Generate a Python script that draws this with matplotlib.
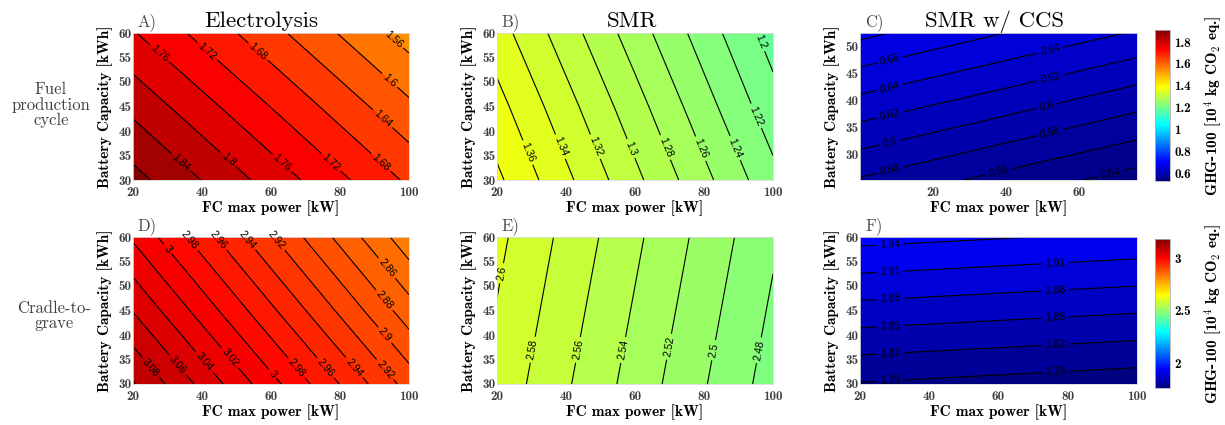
import matplotlib
matplotlib.use("Agg")
import matplotlib.pyplot as plt
import numpy as np
from matplotlib import cm, colors

plt.rcParams["font.family"] = "Liberation Sans"   # contour labels
plt.rcParams["mathtext.fontset"] = "cm"

fc_power = [20, 60, 100]          # kW
battery = [30, 45, 60]            # kWh
# panel C was drawn on its own (odd) axis range
fc_power_ccs = [0, 38, 76]
battery_ccs = [25.2, 38.9, 52.6]

# rows = battery capacity, cols = FC max power, [10^4 kg CO2 eq.]
electrolysis_fuel = [[1.894, 1.784, 1.673],
                     [1.829, 1.719, 1.608],
                     [1.763, 1.653, 1.542]]
smr_fuel = [[1.384, 1.305, 1.226],
            [1.367, 1.288, 1.208],
            [1.349, 1.270, 1.191]]
ccs_fuel = [[0.578, 0.554, 0.531],
            [0.631, 0.608, 0.584],
            [0.685, 0.661, 0.638]]
electrolysis_c2g = [[3.102, 3.007, 2.912],
                    [3.059, 2.964, 2.869],
                    [3.017, 2.922, 2.827]]
smr_c2g = [[2.593, 2.532, 2.471],
           [2.599, 2.538, 2.477],
           [2.605, 2.544, 2.483]]
ccs_c2g = [[1.788, 1.780, 1.772],
           [1.869, 1.861, 1.853],
           [1.950, 1.942, 1.934]]

# contour levels (first, last, step)
levels_a = (1.56, 1.88, 0.04)
levels_b = (1.20, 1.38, 0.02)
levels_c = (0.54, 0.68, 0.02)
levels_d = (2.84, 3.10, 0.02)
levels_e = (2.48, 2.60, 0.02)
levels_f = (1.79, 1.94, 0.03)

clim_fuel = (0.53, 1.91)
clim_c2g = (1.77, 3.18)
cbar_ticks_fuel = [0.6, 0.8, 1.0, 1.2, 1.4, 1.6, 1.8]
cbar_ticks_c2g = [2, 2.5, 3]

# where the inline labels sit (data coords)
lab_a = [(27.8, 55.9), (41.4, 56.2), (55.9, 55.9), (95.4, 58.6), (94.5, 50.4),
         (91.6, 41.9), (91.6, 33.4), (77.1, 33.4), (63.1, 33.4), (47.6, 34.1),
         (33.6, 33.4)]
lab_b = [(28.2, 35.4), (38.3, 36.8), (48.5, 36.8), (59.1, 36.5), (69.3, 36.8),
         (79.4, 36.5), (90.0, 36.8), (95.8, 43.3), (97.8, 58.6)]
lab_c = [(8.2, 47.65), (8.2, 42.4), (8.2, 37.3), (8.2, 32.3), (8.2, 27.05),
         (52.2, 49.4), (52.2, 44.3), (51.3, 38.95), (52.2, 34.0), (38.0, 26.7),
         (68.7, 26.4)]
lab_d = [(25.4, 33.5), (33.6, 34.2), (41.4, 34.9), (48.6, 35.6), (60.7, 32.2),
         (67.9, 33.5), (76.1, 33.5), (84.3, 33.5), (93.0, 32.9), (30.2, 57.7),
         (36.5, 59.4), (44.7, 59.4), (53.0, 59.4), (61.6, 59.4), (93.5, 53.6),
         (93.5, 47.5), (93.5, 40.3)]
lab_e = [(21.4, 52.6), (31.1, 36.9), (43.9, 36.9), (56.9, 36.9), (70.0, 37.6),
         (82.8, 36.9), (95.8, 36.9)]
lab_f = [(28.7, 58.4), (28.7, 52.7), (28.7, 47.3), (28.7, 41.7), (28.7, 36.1),
         (28.7, 30.7), (76.4, 54.5), (76.4, 49.0), (76.4, 43.6), (76.4, 38.0),
         (76.4, 32.5)]

# MATLAB style jet (yellow sits at 5/8, dark blue start at 0.5)
matlab_jet = colors.LinearSegmentedColormap("matlab_jet", {
    "red": [(0, 0, 0), (3 / 8, 0, 0), (5 / 8, 1, 1), (7 / 8, 1, 1), (1, 0.5, 0.5)],
    "green": [(0, 0, 0), (1 / 8, 0, 0), (3 / 8, 1, 1), (5 / 8, 1, 1), (7 / 8, 0, 0), (1, 0, 0)],
    "blue": [(0, 0.5, 0.5), (1 / 8, 1, 1), (3 / 8, 1, 1), (5 / 8, 0, 0), (1, 0, 0)],
}, N=256)

W, H = 1225, 425
fig = plt.figure(figsize=(W / 100, H / 100), dpi=100)


def px_axes(left, top, right, bottom):
    return fig.add_axes([left / W, 1 - bottom / H, (right - left) / W, (bottom - top) / H])


def draw_panel(ax, x, y, z, lev, clim, labpos, letter, title=None, title_x=0.5,
               xticks=(20, 40, 60, 80, 100), yticks=(30, 35, 40, 45, 50, 55, 60)):
    lo, hi, step = lev
    levels = np.round(np.arange(lo, hi + step / 2, step), 2)
    fill = np.concatenate([[lo - step], levels, [hi + step]])
    norm = colors.Normalize(*clim)
    ax.contourf(x, y, np.array(z), levels=fill, cmap=matlab_jet, norm=norm)
    cs = ax.contour(x, y, np.array(z), levels=levels, colors="k", linewidths=0.8)
    labels = ax.clabel(cs, manual=labpos, inline=True, fontsize=7.5, fmt="%g", inline_spacing=3)
    for t in labels:
        t.set_clip_on(False)
    ax.set_xticks(xticks, labels=["%g" % t for t in xticks])
    ax.set_yticks(yticks, labels=["%g" % t for t in yticks])
    ax.tick_params(length=0, labelsize=9.5, labelcolor="0.25")
    ax.tick_params(axis="x", pad=5)
    ax.tick_params(axis="y", pad=1)
    for t in ax.get_xticklabels() + ax.get_yticklabels():
        t.set_fontfamily("cmb10")
    ax.set_xlabel("FC max power [kW]", fontfamily="cmb10", fontsize=11, labelpad=1)
    ax.set_ylabel("Battery Capacity [kWh]", fontfamily="cmb10", fontsize=11, labelpad=4)
    for s in ax.spines.values():
        s.set_color("0.85")
        s.set_linewidth(0.6)
    ax.text(0.018, 1.015, letter, transform=ax.transAxes, fontfamily="cmr10",
            fontsize=12, color="0.3", va="bottom", ha="left")
    if title:
        ax.set_title(title, fontfamily="cmr10", fontsize=16.5, pad=4, x=title_x)


ax_a = px_axes(133, 33, 409, 180)
ax_b = px_axes(497, 33, 773, 180)
ax_c = px_axes(860, 33, 1137, 180)
ax_d = px_axes(133, 237, 409, 384)
ax_e = px_axes(497, 237, 773, 384)
ax_f = px_axes(860, 237, 1137, 384)

draw_panel(ax_a, fc_power, battery, electrolysis_fuel, levels_a, clim_fuel, lab_a, "A)",
           "Electrolysis", title_x=0.464)
draw_panel(ax_b, fc_power, battery, smr_fuel, levels_b, clim_fuel, lab_b, "B)",
           "SMR", title_x=0.489)
draw_panel(ax_c, fc_power_ccs, battery_ccs, ccs_fuel, levels_c, clim_fuel, lab_c, "C)",
           "SMR w/ CCS", title_x=0.484, xticks=(20, 40, 60), yticks=(30, 35, 40, 45, 50))
draw_panel(ax_d, fc_power, battery, electrolysis_c2g, levels_d, clim_c2g, lab_d, "D)")
draw_panel(ax_e, fc_power, battery, smr_c2g, levels_e, clim_c2g, lab_e, "E)")
draw_panel(ax_f, fc_power, battery, ccs_c2g, levels_f, clim_c2g, lab_f, "F)")

cb_label = r"GHG-100 [10$^{\mathbf{4}}$ kg CO$_{\mathbf{2}}$ eq.]"
for (top, bottom), clim, ticks in [((30, 181), clim_fuel, cbar_ticks_fuel),
                                   ((239, 388), clim_c2g, cbar_ticks_c2g)]:
    cax = px_axes(1155, top, 1170, bottom)
    sm = cm.ScalarMappable(norm=colors.Normalize(*clim), cmap=matlab_jet)
    cb = fig.colorbar(sm, cax=cax)
    cb.set_ticks(ticks, labels=["%g" % t for t in ticks])
    cb.ax.tick_params(length=0, labelsize=9.5, pad=3)
    for t in cb.ax.get_yticklabels():
        t.set_fontfamily("cmb10")
    cb.outline.set_edgecolor("0.7")
    cb.outline.set_linewidth(0.6)
    cb.set_label(cb_label, fontfamily="cmb10", fontsize=11, labelpad=8)

fig.text(51 / W, 1 - 105 / H, "Fuel\nproduction\ncycle", ha="center", va="center",
         fontfamily="cmr10", fontsize=12, color="0.25", linespacing=1.0)
fig.text(54 / W, 1 - 316 / H, "Cradle-to-\ngrave", ha="center", va="center",
         fontfamily="cmr10", fontsize=12, color="0.25", linespacing=1.0)

fig.savefig("out.png", dpi=100)
